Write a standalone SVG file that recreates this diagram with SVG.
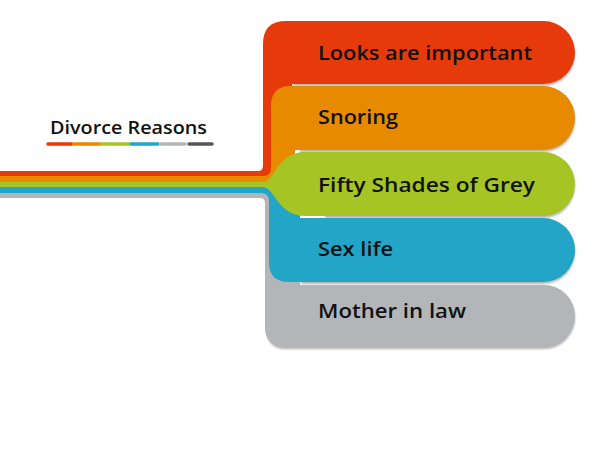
<svg xmlns="http://www.w3.org/2000/svg" width="600" height="450" viewBox="0 0 600 450">
<defs>
<filter id="blur" x="-5%" y="-20%" width="110%" height="140%">
<feGaussianBlur stdDeviation="1"/>
</filter>
<style>
.lbl{font-family:"Open Sans","Lato","DejaVu Sans",sans-serif;font-size:20px;font-weight:600;fill:#111;}
.ttl{font-family:"Open Sans","Lato","DejaVu Sans",sans-serif;font-size:18px;font-weight:600;fill:#111;}
.shd{fill:#000;opacity:0.3;filter:url(#blur);}
.bar{stroke-width:3.5;stroke-linecap:round;fill:none;}
.red{fill:#e63a0b;}
.orange{fill:#e78a00;}
.green{fill:#a6c424;}
.blue{fill:#22a5c6;}
.gray{fill:#b3b6b9;}
</style>
</defs>
<rect width="600" height="450" fill="#fff"/>
<g id="title">
<text class="ttl" x="50" y="134" textLength="157" lengthAdjust="spacingAndGlyphs">Divorce Reasons</text>
<line class="bar" x1="48" y1="144" x2="72" y2="144" stroke="#e63a0b"/>
<line class="bar" x1="74" y1="144" x2="100" y2="144" stroke="#e78a00"/>
<line class="bar" x1="102" y1="144" x2="129" y2="144" stroke="#a6c424"/>
<line class="bar" x1="131" y1="144" x2="158" y2="144" stroke="#22a5c6"/>
<line class="bar" x1="161" y1="144" x2="185" y2="144" stroke="#b3b6b9"/>
<line class="bar" x1="189" y1="144" x2="212" y2="144" stroke="#555"/>
</g>
<g id="connectors">
<path class="red" d="M0 171 L258 171 Q263 171 263 166 L263 50 L292 50 L292 176 L0 176 Z"/>
<path class="orange" d="M0 176 L263 176 Q271 176 271 168 L271 110 L295 110 L295 182 L0 182 Z"/>
<path class="gray" d="M0 193 L300 193 L300 300 L265 300 L265 203 Q265 198 260 198 L0 198 Z"/>
<path class="blue" d="M0 187 L300 187 L300 240 L269 240 L269 201 Q269 193 261 193 L0 193 Z"/>
<path class="green" d="M0 182 L262 182 C276 182 276 152 306 152 L320 152 L320 216 L306 216 C276 216 276 187 262 187 L0 187 Z"/>
</g>
<g id="n1">
<path class="shd" d="M293 23 L543.5 23 A31.5 31.5 0 0 1 543.5 86 L293 86 Z"/>
<path class="red" d="M263 84 L263 44 Q263 21 286 21 L543.5 21 A31.5 31.5 0 0 1 543.5 84 Z"/>
<text class="lbl" x="318" y="60" textLength="214" lengthAdjust="spacingAndGlyphs">Looks are important</text>
</g>
<g id="n2">
<path class="shd" d="M300 88 L543 88 A32 32 0 0 1 543 152 L300 152 Z"/>
<path class="orange" d="M271 150 L271 106 Q271 86 291 86 L543 86 A32 32 0 0 1 543 150 Z"/>
<text class="lbl" x="318" y="124" textLength="80" lengthAdjust="spacingAndGlyphs">Snoring</text>
</g>
<g id="n3">
<path class="shd" d="M325 154 L543 154 A32 32 0 0 1 543 218 L325 218 Z"/>
<path class="green" d="M305 152 L543 152 A32 32 0 0 1 543 216 L305 216 Z"/>
<text class="lbl" x="318" y="192" textLength="217" lengthAdjust="spacingAndGlyphs">Fifty Shades of Grey</text>
</g>
<g id="n4">
<path class="shd" d="M301 220 L543 220 A32 32 0 0 1 543 284 L301 284 Z"/>
<path class="blue" d="M269 218 L543 218 A32 32 0 0 1 543 282 L289 282 Q269 282 269 262 Z"/>
<text class="lbl" x="318" y="256" textLength="75" lengthAdjust="spacingAndGlyphs">Sex life</text>
</g>
<g id="n5">
<path class="shd" d="M290 287 L544 287 A31 31 0 0 1 544 349 L285 349 Q267 349 267 329 L267 300 Z"/>
<path class="gray" d="M265 285 L544 285 A31 31 0 0 1 544 347 L285 347 Q265 347 265 327 Z"/>
<text class="lbl" x="318" y="318" textLength="148" lengthAdjust="spacingAndGlyphs">Mother in law</text>
</g>
</svg>
